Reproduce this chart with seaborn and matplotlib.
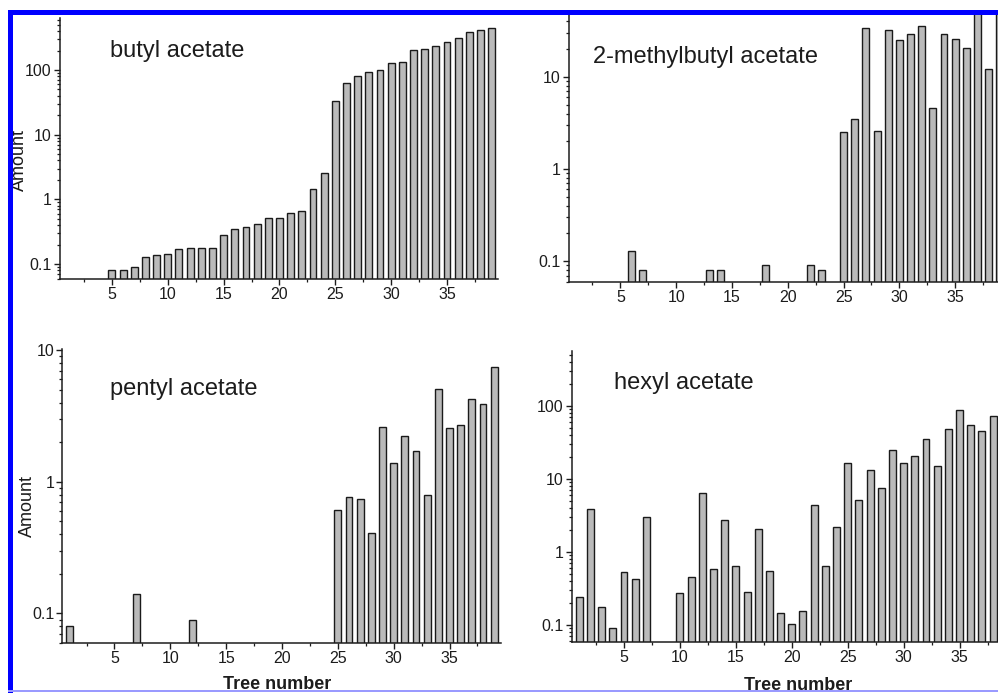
import numpy as np
import pandas as pd
import matplotlib
matplotlib.use("Agg")
import matplotlib.pyplot as plt
import seaborn as sns
from matplotlib.ticker import FixedLocator, FixedFormatter, NullFormatter
from matplotlib.patches import Rectangle

nan = float("nan")
trees = list(range(1, 40))

butyl = [nan, nan, nan, nan, 0.08, 0.08, 0.09, 0.13, 0.138, 0.146,
         0.169, 0.179, 0.179, 0.179, 0.28, 0.355, 0.377, 0.415, 0.51, 0.52,
         0.62, 0.66, 1.46, 2.6, 32.7, 64, 82, 92, 100, 127,
         133, 204, 210, 237, 268, 310, 390, 415, 450]

methylbutyl = [nan, nan, nan, nan, nan, 0.13, 0.081, nan, nan, nan,
               nan, nan, 0.08, 0.08, nan, nan, nan, 0.09, nan, nan,
               nan, 0.09, 0.08, nan, 2.5, 3.5, 34, 2.6, 32, 25,
               29, 36, 4.6, 29, 25.5, 20.5, 60, 12.3, 60]

pentyl = [0.08, nan, nan, nan, nan, nan, 0.14, nan, nan, nan,
          nan, 0.09, nan, nan, nan, nan, nan, nan, nan, nan,
          nan, nan, nan, nan, 0.61, 0.77, 0.74, 0.41, 2.6, 1.38,
          2.23, 1.7, 0.8, 5.06, 2.55, 2.71, 4.25, 3.87, 7.4]

hexyl = [0.245, 3.85, 0.177, 0.092, 0.54, 0.42, 3.0, nan, nan, 0.27,
         0.46, 6.4, 0.58, 2.7, 0.65, 0.28, 2.05, 0.55, 0.145, 0.103,
         0.154, 4.46, 0.64, 2.2, 16.4, 5.2, 13.2, 7.5, 24.7, 16.4,
         20.5, 35, 15, 48, 87, 55, 45, 73, nan]

titles = ["butyl acetate", "2-methylbutyl acetate", "pentyl acetate", "hexyl acetate"]
ytick_vals = [0.1, 1, 10, 100]
ytick_labels = ["0.1", "1", "10", "100"]
yminor_vals = [m * d for d in [0.01, 0.1, 1, 10, 100] for m in range(2, 10)]
xtick_vals = [5, 10, 15, 20, 25, 30, 35]
xminor_vals = [2.5, 7.5, 12.5, 17.5, 22.5, 27.5, 32.5, 37.5]

W, H = 998, 693
sns.set_theme(style="ticks")
plt.rcParams["font.family"] = ["Liberation Sans", "DejaVu Sans"]
plt.rcParams["axes.linewidth"] = 1.1
TXT = "#1c1c1c"

fig = plt.figure(figsize=(W / 100, H / 100), dpi=100)
fig.patch.set_facecolor("white")


def place(l, t, r, b):
    return [l / W, 1 - b / H, (r - l) / W, (b - t) / H]


def fx(x):
    return x / W


def fy(y):
    return 1 - y / H


panels = [
    (butyl, place(60, 18, 498.4, 279), (0.059, 636)),
    (methylbutyl, place(568.5, 14, 1006.5, 281.7), (0.06, 48)),
    (pentyl, place(62.5, 349, 500.9, 642.7), (0.06, 10.2)),
    (hexyl, place(572, 350.7, 1011, 641.7), (0.059, 572)),
]

for vals, pos, ylim in panels:
    ax = fig.add_axes(pos)
    df = pd.DataFrame({"tree": trees, "amount": vals}).dropna()
    sns.barplot(data=df, x="tree", y="amount", native_scale=True, ax=ax,
                color="#bababa", saturation=1, edgecolor="#1a1a1a",
                linewidth=1.0, width=0.62, errorbar=None)
    ax.set_yscale("log")
    ax.set_xlim(0.35, 39.6)
    ax.set_ylim(*ylim)
    ax.set_facecolor("none")
    for s in ["top", "right"]:
        ax.spines[s].set_visible(False)
    for s in ["left", "bottom"]:
        ax.spines[s].set_color(TXT)
    ax.xaxis.set_major_locator(FixedLocator(xtick_vals))
    ax.xaxis.set_major_formatter(FixedFormatter([str(v) for v in xtick_vals]))
    ax.xaxis.set_minor_locator(FixedLocator(xminor_vals))
    ax.xaxis.set_minor_formatter(NullFormatter())
    ax.yaxis.set_major_locator(FixedLocator(ytick_vals))
    ax.yaxis.set_major_formatter(FixedFormatter(ytick_labels))
    ax.yaxis.set_minor_locator(FixedLocator(yminor_vals))
    ax.yaxis.set_minor_formatter(NullFormatter())
    ax.tick_params(axis="both", which="major", direction="out", length=4,
                   width=1.0, color=TXT, labelsize=11.5, labelcolor=TXT, pad=2,
                   bottom=True, left=True)
    ax.tick_params(axis="both", which="minor", direction="out", length=2.5,
                   width=0.9, color=TXT, bottom=True, left=True)
    ax.set_xlabel("")
    ax.set_ylabel("")

# panel titles
fig.text(fx(110), fy(51), titles[0], fontsize=17, color=TXT, ha="left", va="center")
fig.text(fx(593), fy(56.7), titles[1], fontsize=17, color=TXT, ha="left", va="center")
fig.text(fx(110), fy(389), titles[2], fontsize=17, color=TXT, ha="left", va="center")
fig.text(fx(614), fy(383), titles[3], fontsize=17, color=TXT, ha="left", va="center")

# axis labels
fig.text(fx(19), fy(160), "Amount", fontsize=13, color=TXT, rotation=90,
         ha="center", va="center")
fig.text(fx(27), fy(506), "Amount", fontsize=13, color=TXT, rotation=90,
         ha="center", va="center")
fig.text(fx(277.5), fy(689), "Tree number", fontsize=13, fontweight="bold",
         color=TXT, ha="center", va="baseline")
fig.text(fx(798), fy(690), "Tree number", fontsize=13, fontweight="bold",
         color=TXT, ha="center", va="baseline")

# blue frame of the scanned figure
blue = "#0000ff"
fig.patches.append(Rectangle((fx(8.3), 0), 5 / W, fy(10), transform=fig.transFigure,
                             facecolor=blue, edgecolor="none", zorder=10))
fig.patches.append(Rectangle((fx(8.3), fy(15)), 1 - fx(8.3), 5 / H, transform=fig.transFigure,
                             facecolor=blue, edgecolor="none", zorder=10))
fig.patches.append(Rectangle((fx(8.3), fy(692)), 1 - fx(8.3), 1.6 / H, transform=fig.transFigure,
                             facecolor="#9a9aff", edgecolor="none", zorder=10))
fig.patches.append(Rectangle((0, fy(10)), 1, 10 / H, transform=fig.transFigure,
                             facecolor="white", edgecolor="none", zorder=9))

fig.savefig("out.png", dpi=100)
